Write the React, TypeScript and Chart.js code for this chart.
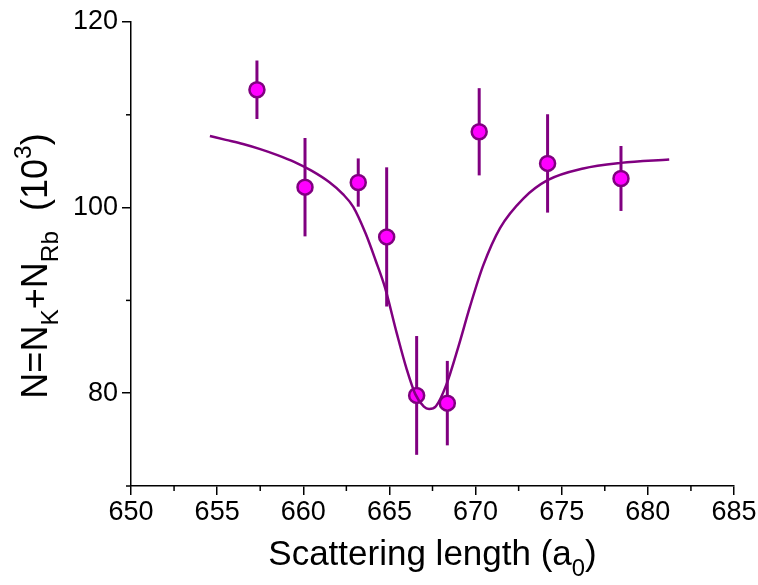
import { useEffect, useRef } from "react";
import { Chart, registerables } from "chart.js";

Chart.register(...registerables);

// Measured points (scattering length in a0, N in 10^3) with symmetric errors
const xPoints = [657.31, 660.1, 663.19, 664.84, 666.58, 668.36, 670.21, 674.18, 678.44];
const yPoints = [112.7, 102.2, 102.7, 96.84, 79.76, 78.93, 108.17, 104.76, 103.14];
const yErrors = [3.15, 5.3, 2.6, 7.5, 6.4, 4.55, 4.7, 5.3, 3.5];

// Fit curve
const fitX = [654.58, 655.5, 656.5, 657.5, 658.5, 659.5, 660.5, 661.5, 662.3, 662.9, 663.62, 664.2, 664.74, 665.42, 666.0, 666.5, 667.0, 667.3, 667.7, 668.3, 669.0, 669.67, 670.45, 671.42, 672.77, 674.18, 676.25, 678.44, 681.24];
const fitY = [107.72, 107.3, 106.85, 106.3, 105.65, 104.9, 103.95, 102.75, 101.45, 100.08, 97.2, 94.3, 91.4, 86.5, 82.6, 79.9, 78.55, 78.3, 78.6, 80.9, 85.0, 89.3, 93.8, 97.8, 100.98, 102.96, 104.22, 104.82, 105.19];

const yMajorTicks = [80, 100, 120];
const yMinorTicks = [70, 90, 110];
const xMinorTicks = [652.5, 657.5, 662.5, 667.5, 672.5, 677.5, 682.5];

const W = 758;
const H = 585;
const FONT = "'Liberation Sans', Arial, Helvetica, sans-serif";
const PURPLE = "#800080";
const MAGENTA = "#FF00FF";

type Run = { t: string; k: "n" | "sub" | "sup" };

function drawRuns(ctx: CanvasRenderingContext2D, runs: Run[], size: number, cx: number, baseline: number) {
  const subSize = size * 0.68;
  const widths = runs.map((r) => {
    ctx.font = `${r.k === "n" ? size : subSize}px ${FONT}`;
    return ctx.measureText(r.t).width;
  });
  const total = widths.reduce((a, b) => a + b, 0);
  let x = cx - total / 2;
  runs.forEach((r, i) => {
    ctx.font = `${r.k === "n" ? size : subSize}px ${FONT}`;
    const dy = r.k === "sub" ? size * 0.3 : r.k === "sup" ? -size * 0.45 : 0;
    ctx.fillText(r.t, x, baseline + dy);
    x += widths[i];
  });
}

export default function App() {
  const ref = useRef<HTMLCanvasElement>(null);
  useEffect(() => {
    const canvas = ref.current!;

    const errorBars = {
      id: "errorBars",
      beforeDatasetDraw(chart: any, args: any) {
        if (args.index !== 1) return;
        const { ctx, scales } = chart;
        const xs = scales.x;
        const ys = scales.y;
        ctx.save();
        ctx.strokeStyle = PURPLE;
        ctx.lineWidth = 3;
        xPoints.forEach((xv, i) => {
          const px = xs.getPixelForValue(xv);
          ctx.beginPath();
          ctx.moveTo(px, ys.getPixelForValue(yPoints[i] + yErrors[i]));
          ctx.lineTo(px, ys.getPixelForValue(yPoints[i] - yErrors[i]));
          ctx.stroke();
        });
        ctx.restore();
      },
    };

    const deco = {
      id: "deco",
      afterDraw(chart: any) {
        const { ctx, scales, chartArea } = chart;
        const xs = scales.x;
        const ys = scales.y;
        ctx.save();
        ctx.strokeStyle = "#000";
        ctx.lineWidth = 1.5;
        xMinorTicks.forEach((v) => {
          const px = xs.getPixelForValue(v);
          ctx.beginPath();
          ctx.moveTo(px, chartArea.bottom);
          ctx.lineTo(px, chartArea.bottom + 5);
          ctx.stroke();
        });
        yMinorTicks.forEach((v) => {
          const py = ys.getPixelForValue(v);
          ctx.beginPath();
          ctx.moveTo(chartArea.left, py);
          ctx.lineTo(chartArea.left - 5, py);
          ctx.stroke();
        });
        ctx.fillStyle = "#000";
        ctx.textAlign = "left";
        ctx.textBaseline = "alphabetic";
        // x title
        drawRuns(
          ctx,
          [
            { t: "Scattering length (a", k: "n" },
            { t: "0", k: "sub" },
            { t: ")", k: "n" },
          ],
          35,
          (chartArea.left + chartArea.right) / 2,
          565
        );
        // y title
        ctx.translate(47, 266);
        ctx.rotate(-Math.PI / 2);
        drawRuns(
          ctx,
          [
            { t: "N=N", k: "n" },
            { t: "K", k: "sub" },
            { t: "+N", k: "n" },
            { t: "Rb", k: "sub" },
            { t: "  (10", k: "n" },
            { t: "3", k: "sup" },
            { t: ")", k: "n" },
          ],
          36,
          0,
          0
        );
        ctx.restore();
      },
    };

    const chart = new Chart(canvas, {
      type: "scatter",
      data: {
        datasets: [
          {
            label: "fit",
            data: fitX.map((x, i) => ({ x, y: fitY[i] })),
            showLine: true,
            borderColor: PURPLE,
            borderWidth: 2.5,
            pointRadius: 0,
            cubicInterpolationMode: "monotone",
            fill: false,
          },
          {
            label: "data",
            data: xPoints.map((x, i) => ({ x, y: yPoints[i] })),
            showLine: false,
            pointRadius: 7.5,
            pointBorderWidth: 2.5,
            backgroundColor: MAGENTA,
            borderColor: PURPLE,
          },
        ],
      },
      options: {
        animation: false,
        responsive: false,
        devicePixelRatio: 1,
        layout: { padding: { left: 0, right: 24, top: 22, bottom: 0 } },
        plugins: { legend: { display: false }, tooltip: { enabled: false } },
        scales: {
          x: {
            type: "linear",
            min: 650,
            max: 685,
            ticks: { stepSize: 5, color: "#000", font: { family: FONT, size: 27 }, padding: 1, maxRotation: 0 },
            grid: { display: true, drawOnChartArea: false, drawTicks: true, tickLength: 9, color: "#000", lineWidth: 1.5 },
            border: { display: true, color: "#000", width: 1.5 },
            afterFit(scale: any) {
              scale.height = 99;
            },
          },
          y: {
            type: "linear",
            min: 70,
            max: 120,
            ticks: { color: "#000", font: { family: FONT, size: 27 }, padding: 4 },
            afterBuildTicks(scale: any) {
              scale.ticks = yMajorTicks.map((v) => ({ value: v }));
            },
            grid: { display: true, drawOnChartArea: false, drawTicks: true, tickLength: 9, color: "#000", lineWidth: 1.5 },
            border: { display: true, color: "#000", width: 1.5 },
            afterFit(scale: any) {
              scale.width = 131;
            },
          },
        },
      },
      plugins: [errorBars, deco],
    });
    return () => chart.destroy();
  }, []);

  return (
    <div style={{ position: "fixed", left: 0, top: 0, width: W, height: H, background: "#fff" }}>
      <canvas ref={ref} width={W} height={H} style={{ width: W, height: H, display: "block" }} />
    </div>
  );
}
